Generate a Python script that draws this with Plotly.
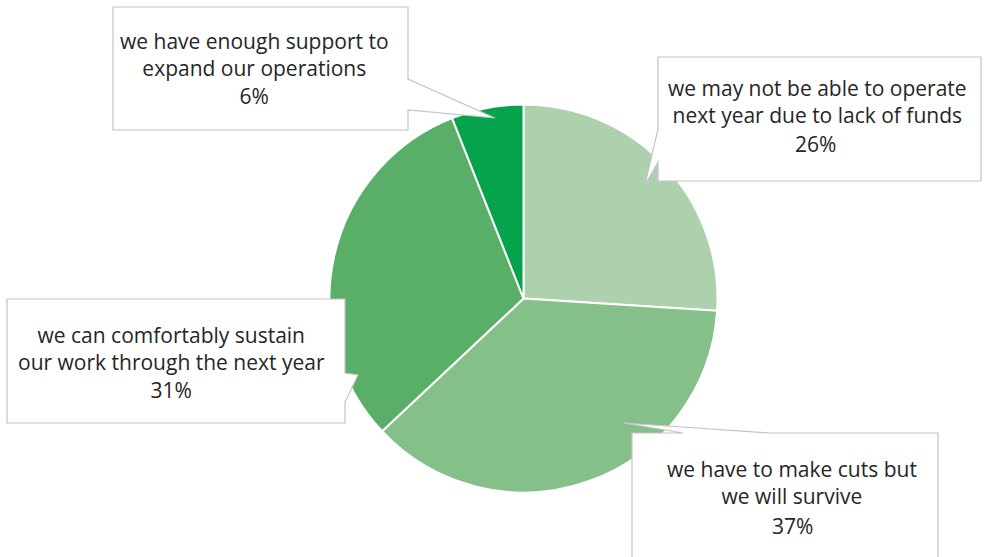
import plotly.graph_objects as go

W, H = 985, 557

labels = [
    "we may not be able to operate<br>next year due to lack of funds",
    "we have to make cuts but<br>we will survive",
    "we can comfortably sustain<br>our work through the next year",
    "we have enough support to<br>expand our operations",
]
values = [26, 37, 31, 6]
colors = ["#aed1ad", "#85c08a", "#5aaf68", "#05a34c"]

# pie placement (pixels)
cx, cy, r = 523.5, 298.5, 194

fig = go.Figure()
fig.add_trace(go.Pie(
    labels=labels, values=values, sort=False, direction="clockwise", rotation=0,
    marker=dict(colors=colors, line=dict(color="white", width=2)),
    textinfo="none", hoverinfo="label+percent", showlegend=False,
    domain=dict(x=[(cx - r) / W, (cx + r) / W], y=[(H - cy - r) / H, (H - cy + r) / H]),
))

# callout boxes (pixel paths), one per slice in same order as data
callouts = [
    "M658,57 L981,57 L981,181 L658,181 L658,162 L645,185 L658,129 Z",
    "M632,433 L683,433 L624,423 L770,433 L938,433 L938,575 L632,575 Z",
    "M7,299 L345,299 L345,373 L358,375 L345,402 L345,423 L7,423 Z",
    "M113,7 L408,7 L408,79 L495,118 L408,110 L408,130 L113,130 Z",
]
# text placement: (label x, label y, pct x, pct y, combine label and pct in one block)
text_pos = [
    (817.5, 101.5, 815, 144, False),
    (792, 482.5, 792, 526, False),
    (171, 362, None, None, True),
    (254, 68, None, None, True),
]

shapes = []
for p in callouts:
    shapes.append(dict(type="path", path=p, xref="x", yref="y",
                       fillcolor="white", line=dict(color="#c4c4c4", width=1.2),
                       layer="above"))

FONT = dict(size=21, color="#262626", family="Open Sans")
annotations = []
for lab, v, (lx, ly, px, py, combine) in zip(labels, values, text_pos):
    pct = f"{v}%"
    if combine:
        annotations.append(dict(x=lx, y=ly, xref="x", yref="y", text=lab + "<br>" + pct,
                                showarrow=False, font=FONT, align="center",
                                xanchor="center", yanchor="middle"))
    else:
        annotations.append(dict(x=lx, y=ly, xref="x", yref="y", text=lab,
                                showarrow=False, font=FONT, align="center",
                                xanchor="center", yanchor="middle"))
        annotations.append(dict(x=px, y=py, xref="x", yref="y", text=pct,
                                showarrow=False, font=FONT,
                                xanchor="center", yanchor="middle"))

fig.update_layout(
    width=W, height=H, margin=dict(l=0, r=0, t=0, b=0),
    paper_bgcolor="white", plot_bgcolor="white",
    xaxis=dict(range=[0, W], visible=False, fixedrange=True),
    yaxis=dict(range=[H, 0], visible=False, fixedrange=True),
    shapes=shapes, annotations=annotations,
    font=dict(family="Open Sans"),
)
fig.write_html("out.html", config={"displayModeBar": False},
               post_script="document.body.style.margin='0';")
